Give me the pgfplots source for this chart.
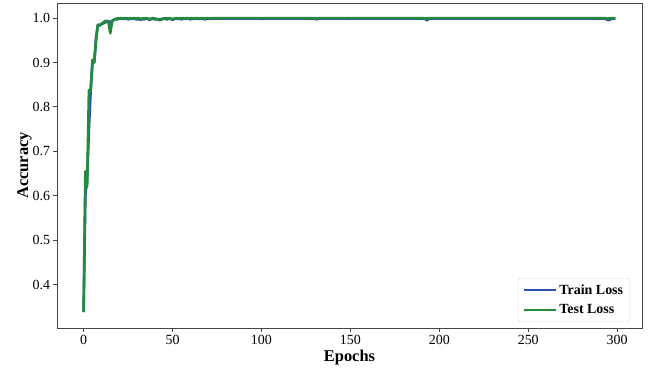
\documentclass[border=0pt]{standalone}
\usepackage{fontspec}
\setmainfont{Liberation Serif}
\usepackage{pgfplots}
\usepackage{pgfplotstable}
\pgfplotsset{compat=1.18}
\definecolor{trainblue}{RGB}{44,80,172}
\definecolor{testgreen}{RGB}{34,139,60}
\definecolor{framegray}{RGB}{70,70,70}

\pgfplotstableread{
x train test
0 0.338 0.338
1 0.600 0.655
2 0.640 0.620
3 0.750 0.838
4 0.840 0.835
5 0.900 0.906
6 0.902 0.900
7 0.955 0.950
8 0.985 0.984
9 0.983 0.985
10 0.987 0.986
11 0.988 0.990
12 0.990 0.993
13 0.992 0.994
14 0.993 0.990
15 0.990 0.966
16 0.994 0.992
17 0.996 0.996
18 0.998 0.998
19 0.997 0.999
20 0.999 0.999
21 0.998 1.000
22 0.999 0.999
23 0.998 1.000
24 0.999 0.999
25 0.997 0.999
26 0.999 1.000
27 0.998 0.999
28 0.999 1.000
29 0.998 0.999
30 0.997 0.999
31 0.998 1.000
32 0.996 0.998
33 0.998 0.999
34 0.997 0.999
35 0.999 1.000
36 0.998 0.999
37 0.996 0.998
38 0.998 0.999
39 0.999 1.000
40 0.997 0.999
41 0.998 0.998
42 0.996 0.997
43 0.997 0.995
44 0.998 0.997
45 0.999 0.999
46 0.998 1.000
47 0.997 0.999
48 0.999 1.000
49 0.998 0.999
50 0.996 0.998
51 0.998 0.999
52 0.999 1.000
53 0.998 0.999
54 0.999 1.000
55 0.997 0.999
56 0.999 1.000
57 0.998 0.999
58 0.999 1.000
59 0.999 1.000
60 0.997 0.999
61 0.999 1.000
62 0.998 0.999
63 0.999 1.000
64 0.999 1.000
65 0.998 0.999
66 0.999 1.000
67 0.999 1.000
68 0.997 0.999
69 0.999 1.000
70 0.999 1.000
71 0.998 0.999
72 0.999 1.000
75 0.999 1.000
80 0.999 1.000
90 0.999 1.000
99 0.999 1.000
100 0.998 1.000
101 0.999 1.000
110 0.999 1.000
120 0.999 1.000
130 0.999 1.000
131 0.997 0.999
132 0.999 1.000
140 0.999 1.000
147 0.999 1.000
148 0.998 1.000
149 0.999 1.000
160 0.999 1.000
170 0.999 1.000
180 0.999 1.000
191 0.999 1.000
192 0.998 0.999
193 0.995 0.999
194 0.998 1.000
195 0.999 1.000
210 0.999 1.000
230 0.999 1.000
250 0.999 1.000
270 0.999 1.000
290 0.999 1.000
293 0.999 1.000
294 0.997 0.999
295 0.995 0.999
296 0.997 1.000
297 0.999 1.000
299 0.999 1.000
}\acctable

\begin{document}
\begin{tikzpicture}
\begin{axis}[
  at={(57bp,43bp)}, anchor=south west,
  scale only axis, width=585bp, height=325bp,
  xmin=-14.95, xmax=313.95, ymin=0.302, ymax=1.034,
  xtick={0,50,100,150,200,250,300},
  ytick={0.4,0.5,0.6,0.7,0.8,0.9,1.0},
  yticklabel style={/pgf/number format/.cd, fixed, fixed zerofill, precision=1},
  /pgf/number format/assume math mode=true,
  tick label style={font=\fontsize{14}{16}\selectfont, text=black},
  tick align=outside, tick pos=left,
  major tick length=3.5bp,
  tick style={framegray, line width=0.8pt},
  axis line style={framegray, line width=0.9pt},
  xlabel={\textbf{Epochs}}, ylabel={\textbf{Accuracy}},
  label style={font=\fontsize{16.5}{19}\selectfont},
  xlabel style={yshift=1bp},
  ylabel style={yshift=-6bp},
  legend cell align=left,
  legend style={at={(0.98,0.02)}, anchor=south east,
    draw=black!15, rounded corners=2pt,
    font=\fontsize{14}{16}\selectfont\bfseries,
    row sep=5bp, inner xsep=5bp, inner ysep=4bp},
  legend image code/.code={\draw[#1] (0bp,0bp) -- (32bp,0bp);},
]
\addplot[trainblue, line width=2.6bp, line join=round] table[x=x, y=train] {\acctable};
\addlegendentry{Train Loss}
\addplot[testgreen, line width=2.6bp, line join=round] table[x=x, y=test] {\acctable};
\addlegendentry{Test Loss}
\end{axis}
\pgfresetboundingbox
\path[use as bounding box] (0,0) rectangle (651bp,371bp);
\end{tikzpicture}
\end{document}
